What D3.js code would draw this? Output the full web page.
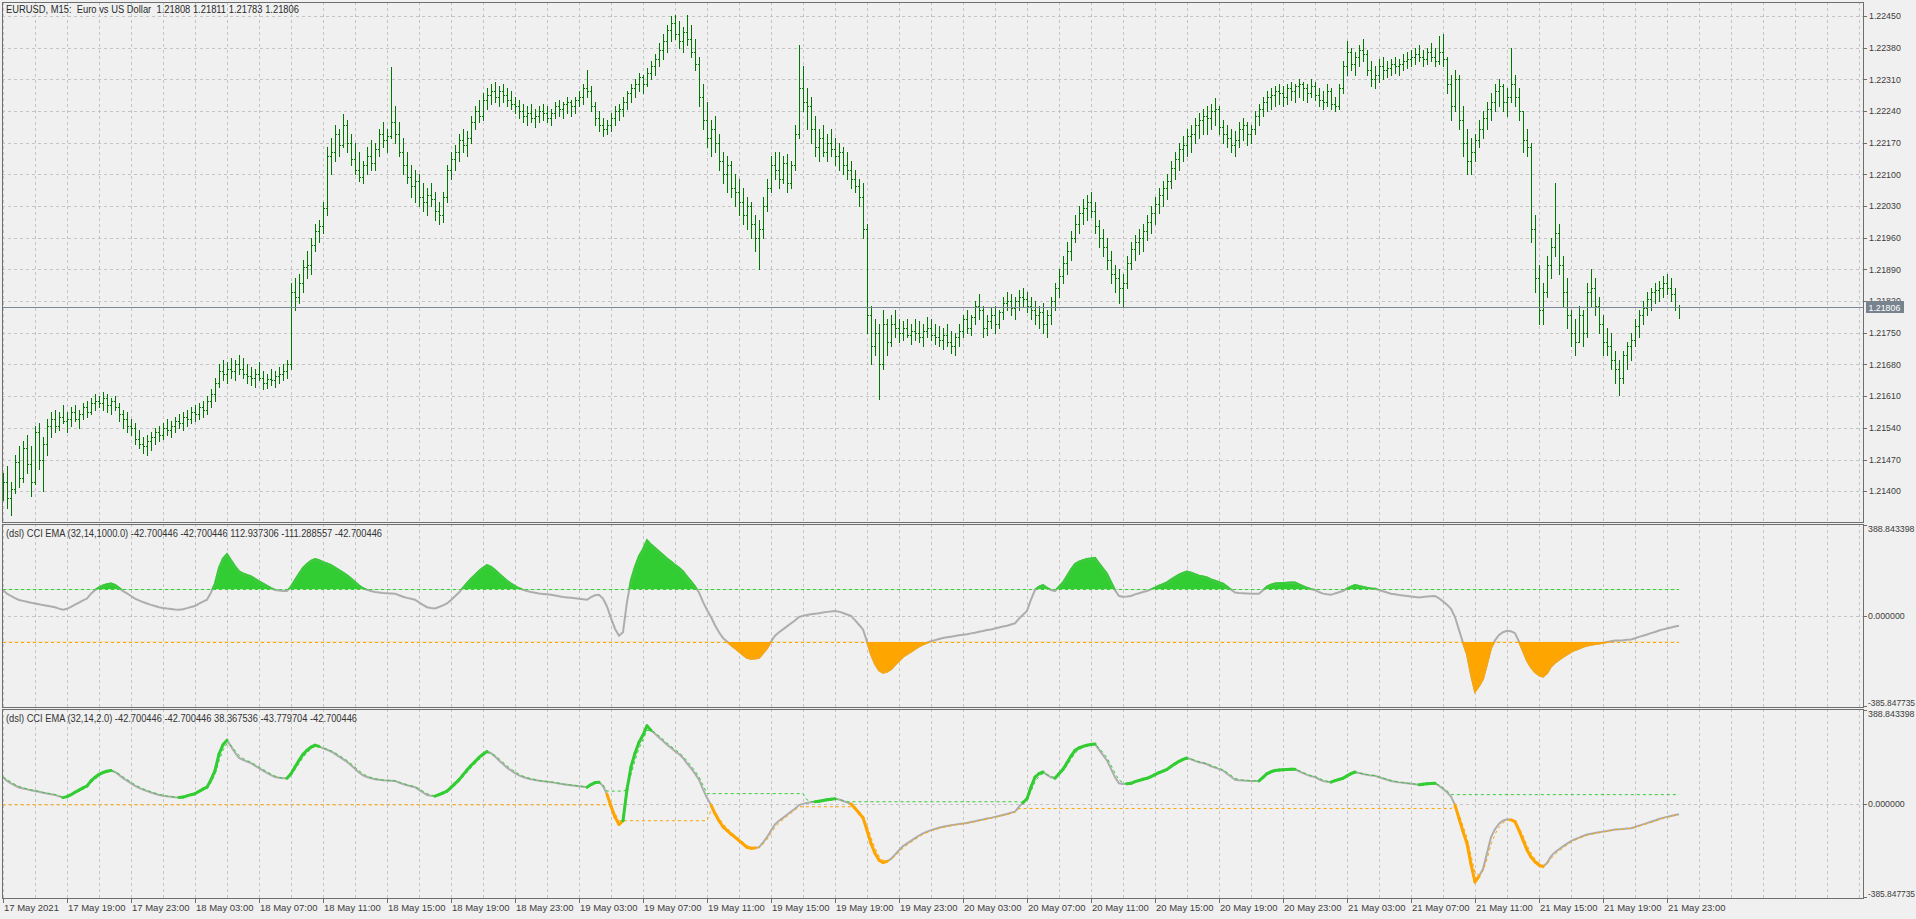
<!DOCTYPE html>
<html><head><meta charset="utf-8">
<script src="https://cdn.jsdelivr.net/npm/d3@7"></script>
<style>
html,body{margin:0;padding:0;background:#f0f0f0;overflow:hidden;}
svg{display:block;}
text{font-family:"Liberation Sans",Arial,"DejaVu Sans",sans-serif;}
.pre{white-space:pre;}
</style></head><body>
<svg id="c" width="1916" height="919"></svg>
<script>
// ---------- texts ----------
const symbolTitle = "EURUSD, M15:  Euro vs US Dollar  1.21808 1.21811 1.21783 1.21806";
const slowTitle = "(dsl) CCI EMA (32,14,1000.0) -42.700446 -42.700446 112.937306 -111.288557 -42.700446";
const fastTitle = "(dsl) CCI EMA (32,14,2.0) -42.700446 -42.700446 38.367536 -43.779704 -42.700446";
const timeLabels = ["17 May 2021","17 May 19:00","17 May 23:00","18 May 03:00","18 May 07:00","18 May 11:00","18 May 15:00","18 May 19:00","18 May 23:00","19 May 03:00","19 May 07:00","19 May 11:00","19 May 15:00","19 May 19:00","19 May 23:00","20 May 03:00","20 May 07:00","20 May 11:00","20 May 15:00","20 May 19:00","20 May 23:00","21 May 03:00","21 May 07:00","21 May 11:00","21 May 15:00","21 May 19:00","21 May 23:00"];
const timeLabelBars = [0,16,32,48,64,80,96,112,128,144,160,176,192,208,224,240,256,272,288,304,320,336,352,368,384,400,416];
const priceTicks = [1.22450,1.22380,1.22310,1.22240,1.22170,1.22100,1.22030,1.21960,1.21890,1.21820,1.21750,1.21680,1.21610,1.21540,1.21470,1.21400];
const lastPrice = 1.21806;
// prices stored in points: price = priceBase + value * pointSize
const priceBase = 1.2, pointSize = 0.00001;
const opens = [1400,1420,1385,1405,1465,1430,1495,1460,1420,1530,1470,1505,1545,1560,
1545,1565,1555,1560,1575,1560,1570,1585,1575,1595,1600,1595,1605,
1590,1600,1585,1570,1560,1545,1540,1515,
1505,1500,1510,1520,1530,
1525,1540,1535,1545,1555,1550,1565,1560,1575,1570,1585,1580,1600,1615,
1640,1665,1660,1670,
1665,1680,1670,1660,1655,1650,1660,1650,1640,1648,1645,1655,1660,1665,1680,
1840,1830,1860,1895,1900,1945,1975,1985,2025,
2140,2150,2190,2165,2210,2170,2135,2110,2095,2120,2140,2125,2155,2190,2175,2185,2215,2190,
2150,2120,2095,2075,2085,2050,2040,2055,2045,2020,2010,2050,
2110,2135,2150,2175,2165,2180,2215,2240,2230,2265,2275,2285,
2270,2285,2275,2265,2255,2250,
2240,2230,2235,2225,2230,2240,2235,2225,2235,2250,2245,2255,2260,2250,2265,2270,2290,2285,2250,
2225,2210,2200,2210,2225,2240,
2245,2260,2280,2290,2300,2315,2300,2325,2340,2355,2375,2395,
2420,2435,2410,2395,2415,2400,2370,2345,2270,2220,
2180,2200,2170,2130,2100,2120,2070,2060,2040,2010,2030,1990,1960,1980,2030,2070,2120,2110,
2090,2125,2080,2120,2190,2290,
2260,2250,2200,2160,2180,2150,2170,2155,2140,2150,2120,2110,2090,2075,
2050,1980,1790,1720,1750,1680,1770,1730,
1770,1760,1750,1760,1745,1755,1750,1740,1755,1760,1745,1740,1735,1745,1730,1720,1740,1755,1780,1760,1785,1810,1800,
1760,1775,1790,1770,1795,1815,1820,1805,1820,1830,1825,1810,1800,1790,1795,1770,1790,1820,
1850,1875,1905,1930,1960,1990,2015,2025,2040,2020,
1985,1960,1940,1910,1880,1870,1850,1860,
1905,1935,1950,1960,1975,1995,2015,2035,2055,2070,2085,2115,
2135,2155,2165,2185,2190,2210,2220,2230,2225,2240,2245,2205,2190,
2180,2165,2175,2200,2210,2190,2200,2230,2245,2260,2270,
2275,2285,2280,2270,2290,2285,2295,2300,2290,2280,2295,2275,2265,2260,
2285,2255,2250,2290,2340,
2370,2345,2360,2375,2365,2330,2310,2320,2340,2330,2335,2345,2340,2345,2350,2355,2360,2365,2360,2355,2370,2360,2350,2370,2355,
2300,2250,2310,2220,2170,2130,
2150,2175,2200,2225,2245,2260,2285,2295,2260,2270,2300,
2270,2240,2175,2160,1980,1870,1800,
1840,1900,1940,1970,1900,1840,1790,1750,1730,1790,1750,1840,1850,
1810,1770,1730,1720,1690,1670,1650,
1700,1720,1735,1765,1790,1805,1825,1840,1845,1850,1860,1850,1835,1808];
const highs = [1440,1455,1420,1480,1500,1510,1525,1500,1545,1550,1520,1560,1575,
1580,1575,1590,1575,1585,1590,1580,1595,1600,1605,1615,1610,1620,
1615,1605,1610,1595,1580,1575,1560,1550,
1535,1520,1525,1530,1540,
1545,1550,1560,1555,1565,1570,1575,1580,1585,1590,1595,1600,1610,1625,
1650,1680,1690,1685,
1695,1690,1700,1695,1680,1675,1670,1685,1665,1660,1670,1665,1675,1680,1690,
1860,1870,1880,1910,1930,1960,1990,2000,2040,
2160,2180,2210,2200,2234,2220,2190,2170,2150,2130,2160,2175,2170,2200,2215,2200,2337,2250,
2215,2180,2150,2120,2110,2100,2080,2070,2080,2060,2040,2060,
2120,2150,2165,2190,2200,2195,2230,2250,2265,2280,2290,2300,
2305,2295,2300,2290,2285,2270,
2265,2255,2250,2255,2245,2250,2255,2250,2245,2260,2265,2260,2270,2265,2270,2285,2300,2330,2295,
2260,2240,2225,2220,2235,2250,
2255,2270,2285,2300,2310,2325,2320,2335,2350,2365,2390,2410,
2430,2450,2453,2440,2425,2453,2430,2400,2360,2300,
2260,2220,2230,2190,2150,2140,2130,2100,2090,2070,2050,2040,2010,2000,2050,2090,2140,2150,
2150,2140,2145,2130,2210,2385,
2340,2290,2270,2230,2200,2210,2190,2200,2180,2170,2160,2150,2130,2110,
2090,2080,1990,1810,1780,1770,1800,1780,
1790,1800,1780,1775,1780,1770,1780,1775,1770,1785,1780,1770,1765,1760,1770,1755,1750,1770,1790,1800,1790,1820,1835,
1810,1790,1805,1810,1800,1830,1840,1835,1830,1845,1850,1840,1830,1820,1810,1815,1800,1830,
1860,1890,1920,1950,1975,2010,2030,2045,2055,2060,
2040,2000,1980,1960,1930,1900,1890,1880,
1920,1950,1965,1980,1990,2010,2030,2050,2070,2085,2100,2130,
2150,2170,2185,2200,2210,2225,2235,2245,2250,2255,2269,2250,2220,
2210,2200,2195,2215,2225,2215,2210,2240,2255,2270,2285,
2290,2295,2300,2295,2300,2305,2300,2310,2305,2300,2310,2305,2290,2285,
2300,2290,2270,2300,2350,
2395,2380,2370,2385,2400,2375,2350,2340,2355,2360,2350,2355,2360,2355,2365,2370,2375,2380,2385,2375,2380,2390,2380,2405,2410,
2360,2320,2330,2320,2250,2200,
2180,2190,2220,2240,2260,2280,2300,2310,2300,2290,2380,
2320,2290,2240,2200,2170,2010,1900,
1860,1920,1960,2080,1990,1920,1870,1800,1780,1810,1800,1860,1890,
1870,1830,1790,1760,1750,1710,1690,
1710,1730,1750,1780,1800,1820,1840,1850,1860,1865,1875,1880,1870,1850,1811];
const lows = [1380,1362,1348,1395,1410,1420,1440,1390,1415,1450,1400,1480,1520,
1530,1535,1550,1530,1545,1555,1540,1560,1565,1570,1580,1585,1580,
1575,1570,1580,1555,1540,1530,1525,1505,
1495,1485,1480,1490,1505,
1510,1515,1525,1520,1530,1540,1535,1545,1550,1555,1560,1565,1570,1585,
1600,1630,1645,1640,
1650,1645,1660,1650,1640,1635,1630,1645,1625,1628,1635,1630,1640,1645,1650,
1670,1800,1815,1840,1870,1880,1930,1950,1970,
2010,2100,2130,2140,2160,2150,2120,2100,2085,2080,2100,2110,2110,2140,2160,2150,2180,2170,
2140,2100,2080,2050,2040,2030,2020,2010,2030,2000,1990,1995,
2040,2090,2110,2130,2150,2140,2170,2200,2215,2220,2245,2255,
2260,2250,2260,2250,2245,2235,
2225,2215,2210,2215,2205,2215,2220,2215,2210,2225,2230,2225,2235,2230,2235,2250,2255,2270,2240,
2210,2195,2185,2190,2195,2210,
2220,2230,2245,2260,2270,2285,2280,2295,2310,2320,2340,2355,
2370,2395,2400,2380,2370,2385,2360,2330,2250,2200,
2160,2140,2150,2110,2080,2060,2050,2030,2010,1990,1980,1960,1930,1891,1960,2020,2060,2090,
2070,2080,2060,2070,2110,2180,
2240,2200,2170,2140,2130,2140,2130,2140,2120,2110,2100,2090,2070,2060,
2030,1960,1750,1680,1700,1603,1670,1700,
1720,1740,1730,1735,1740,1725,1735,1730,1720,1740,1735,1725,1720,1715,1720,1705,1700,1720,1740,1750,1745,1770,1780,
1740,1745,1760,1750,1760,1780,1800,1790,1780,1800,1810,1795,1780,1770,1760,1750,1740,1770,
1800,1830,1860,1880,1910,1950,1970,1990,2000,2005,
1970,1940,1920,1890,1860,1840,1815,1810,
1850,1890,1910,1925,1930,1955,1970,1990,2015,2030,2045,2070,
2090,2110,2130,2140,2150,2170,2180,2190,2190,2200,2210,2190,2170,
2160,2150,2140,2160,2175,2165,2170,2190,2210,2230,2240,
2245,2250,2255,2250,2255,2265,2260,2270,2265,2260,2270,2265,2250,2245,
2250,2245,2240,2245,2280,
2320,2330,2320,2340,2350,2320,2295,2290,2305,2310,2315,2320,2325,2320,2330,2335,2340,2345,2350,2340,2345,2350,2340,2345,2340,
2280,2220,2240,2200,2140,2100,
2100,2130,2160,2180,2200,2220,2240,2250,2240,2230,2260,
2250,2220,2150,2140,1950,1840,1770,
1770,1830,1870,1920,1880,1810,1760,1720,1700,1730,1720,1740,1810,
1790,1750,1700,1700,1670,1640,1612,
1640,1670,1690,1720,1740,1770,1790,1800,1815,1820,1830,1835,1820,1800,1783];
const closes = [1420,1385,1405,1465,1430,1495,1460,1420,1530,1470,1505,1545,1560,
1545,1565,1555,1560,1575,1560,1570,1585,1575,1595,1600,1595,1605,
1590,1600,1585,1570,1560,1545,1540,1515,
1505,1500,1510,1520,1530,
1525,1540,1535,1545,1555,1550,1565,1560,1575,1570,1585,1580,1600,1615,
1640,1665,1660,1670,
1665,1680,1670,1660,1655,1650,1660,1650,1640,1648,1645,1655,1660,1665,1680,
1840,1830,1860,1895,1900,1945,1975,1985,2025,
2140,2150,2190,2165,2210,2170,2135,2110,2095,2120,2140,2125,2155,2190,2175,2185,2215,2190,
2150,2120,2095,2075,2085,2050,2040,2055,2045,2020,2010,2050,
2110,2135,2150,2175,2165,2180,2215,2240,2230,2265,2275,2285,
2270,2285,2275,2265,2255,2250,
2240,2230,2235,2225,2230,2240,2235,2225,2235,2250,2245,2255,2260,2250,2265,2270,2290,2285,2250,
2225,2210,2200,2210,2225,2240,
2245,2260,2280,2290,2300,2315,2300,2325,2340,2355,2375,2395,
2420,2435,2410,2395,2415,2400,2370,2345,2270,2220,
2180,2200,2170,2130,2100,2120,2070,2060,2040,2010,2030,1990,1960,1980,2030,2070,2120,2110,
2090,2125,2080,2120,2190,2290,
2260,2250,2200,2160,2180,2150,2170,2155,2140,2150,2120,2110,2090,2075,
2050,1980,1790,1720,1750,1680,1770,1730,
1770,1760,1750,1760,1745,1755,1750,1740,1755,1760,1745,1740,1735,1745,1730,1720,1740,1755,1780,1760,1785,1810,1800,
1760,1775,1790,1770,1795,1815,1820,1805,1820,1830,1825,1810,1800,1790,1795,1770,1790,1820,
1850,1875,1905,1930,1960,1990,2015,2025,2040,2020,
1985,1960,1940,1910,1880,1870,1850,1860,
1905,1935,1950,1960,1975,1995,2015,2035,2055,2070,2085,2115,
2135,2155,2165,2185,2190,2210,2220,2230,2225,2240,2245,2205,2190,
2180,2165,2175,2200,2210,2190,2200,2230,2245,2260,2270,
2275,2285,2280,2270,2290,2285,2295,2300,2290,2280,2295,2275,2265,2260,
2285,2255,2250,2290,2340,
2370,2345,2360,2375,2365,2330,2310,2320,2340,2330,2335,2345,2340,2345,2350,2355,2360,2365,2360,2355,2370,2360,2350,2370,2355,
2300,2250,2310,2220,2170,2130,
2150,2175,2200,2225,2245,2260,2285,2295,2260,2270,2300,
2270,2240,2175,2160,1980,1870,1800,
1840,1900,1940,1970,1900,1840,1790,1750,1730,1790,1750,1840,1850,
1810,1770,1730,1720,1690,1670,1650,
1700,1720,1735,1765,1790,1805,1825,1840,1845,1850,1860,1850,1835,1808,1806];
// CCI EMA values (shared by both indicator panes)
const cciValues = [111,95,85,76,68,64,60,56,53,50,
46,43,40,37,31,26,30,38,48,57,
66,74,95,110,122,130,135,138,132,120,
106,96,85,74,66,59,53,47,42,37,
34,31,29,27,26,28,33,38,42,52,
61,69,100,138,206,245,264,238,212,190,
182,175,169,158,148,138,128,119,111,108,
106,106,125,153,180,205,222,235,243,238,
230,224,217,207,196,185,174,160,145,130,
118,111,106,102,100,98,97,96,95,88,
82,77,73,69,58,47,37,34,32,38,
45,53,68,84,100,120,140,159,175,192,
206,217,210,196,180,165,150,138,127,118,
111,106,102,99,96,94,92,90,87,84,
81,79,77,75,73,71,69,80,88,90,
74,40,-10,-55,-85,-70,60,153,210,255,
285,323,305,290,275,260,245,232,218,206,
190,168,148,125,100,60,25,-5,-40,-70,
-95,-110,-125,-138,-152,-166,-180,-184,-183,-180,
-160,-138,-110,-85,-70,-58,-45,-32,-20,-5,
0,4,7,9,11,14,17,19,21,18,
12,6,0,-18,-38,-58,-110,-164,-205,-233,
-243,-238,-228,-210,-192,-175,-164,-153,-142,-131,
-122,-115,-109,-104,-99,-95,-92,-89,-86,-83,
-81,-79,-75,-72,-68,-65,-61,-58,-54,-50,
-46,-42,-37,-32,-12,5,21,70,111,125,
132,120,110,106,125,143,170,198,222,232,
238,243,246,248,225,202,180,145,110,85,
82,83,85,92,97,102,106,113,121,129,
136,143,155,166,176,184,190,185,178,172,
169,164,156,150,144,138,125,112,100,98,
97,96,95,95,95,110,125,133,138,140,
141,142,143,143,135,127,120,114,111,102,
95,92,90,96,101,106,116,125,132,128,
124,120,117,116,110,105,100,95,92,89,
87,85,83,81,79,81,83,84,85,75,
62,48,30,-5,-60,-115,-164,-250,-323,-300,
-270,-205,-138,-105,-82,-70,-64,-66,-74,-110,
-150,-191,-220,-240,-254,-260,-245,-217,-200,-188,
-176,-165,-154,-146,-140,-133,-127,-124,-121,-118,
-115,-112,-109,-106,-105,-104,-102,-101,-96,-90,
-85,-80,-74,-69,-63,-58,-54,-50,-46,-42.700446];
const cciScaleMax = 388.843398, cciScaleMin = -385.847735;
const cciAxisTicks = [388.843398, 0, -385.847735];
const cciAxisLabels = ["388.843398", "0.000000", "-385.847735"];
const slowUpperLevel = 112.937306, slowLowerLevel = -111.288557;
const fastSignalPeriod = 2.0;
const fastUpperStart = 111, fastLowerStart = -4;

// ---------- styles ----------
const BG = "#f0f0f0", BORDER = "#6e6e6e", GRID = "#c4c4c4", AXIS_TXT = "#3c3c3c";
const BAR = "#007800", GREEN = "#32cd32", ORANGE = "#ffa500", GRAY = "#adadad";

const svg = d3.select("#c");
svg.append("rect").attr("width",1916).attr("height",919).attr("fill",BG);
const L = 2, R = 1863;
const panes = {top:[2,522], mid:[524,707], bot:[709,898]};
const n = closes.length;
const x = d3.scaleLinear().domain([0, n-1]).range([3, 3 + 4*(n-1)]);
const toPrice = v => priceBase + v*pointSize;
const yP = d3.scaleLinear().domain([1.213319, 1.224809]).range([522, 2]);
const yM = d3.scaleLinear().domain([cciScaleMin, cciScaleMax]).range([706, 525]);
const yB = d3.scaleLinear().domain([cciScaleMin, cciScaleMax]).range([897, 710]);

const defs = svg.append("defs");
function clip(id, x0, y0, x1, y1){
  defs.append("clipPath").attr("id", id).append("rect").attr("x",x0).attr("y",y0).attr("width",x1-x0).attr("height",y1-y0);
  return "url(#"+id+")";
}
const gridBars = d3.range(0, 466, 8);
function vGrid(g, y0, y1){
  g.selectAll("line.vg").data(gridBars).join("line").attr("class","vg")
    .attr("x1",d=>Math.round(x(d))+0.5).attr("x2",d=>Math.round(x(d))+0.5)
    .attr("y1",y0).attr("y2",y1)
    .attr("stroke",GRID).attr("stroke-dasharray","3,3").attr("shape-rendering","crispEdges");
}
function hGridLine(g, y){
  g.append("line").attr("x1",L).attr("x2",R).attr("y1",Math.round(y)+0.5).attr("y2",Math.round(y)+0.5)
    .attr("stroke",GRID).attr("stroke-dasharray","3,3").attr("shape-rendering","crispEdges");
}

// ---------- TOP PANE ----------
const gTop = svg.append("g").attr("clip-path", clip("cTop", L, panes.top[0], R, panes.top[1]));
vGrid(gTop, panes.top[0], panes.top[1]);
priceTicks.forEach(p => hGridLine(gTop, yP(p)));

const bars = d3.range(n).map(i => ({i, o:toPrice(opens[i]), h:toPrice(highs[i]), l:toPrice(lows[i]), c:toPrice(closes[i])}));
const gBars = gTop.append("g").attr("fill", BAR).attr("shape-rendering","crispEdges");
gBars.selectAll("rect.v").data(bars).join("rect").attr("class","v")
  .attr("x", d=>x(d.i)).attr("y", d=>Math.round(yP(d.h)))
  .attr("width",1).attr("height", d=>Math.max(1, Math.round(yP(d.l)) - Math.round(yP(d.h)) + 1));
gBars.selectAll("rect.o").data(bars).join("rect").attr("class","o")
  .attr("x", d=>x(d.i)-1).attr("y", d=>Math.round(yP(d.o))).attr("width",1).attr("height",1);
gBars.selectAll("rect.c").data(bars).join("rect").attr("class","c")
  .attr("x", d=>x(d.i)+1).attr("y", d=>Math.round(yP(d.c))).attr("width",1).attr("height",1);

// current price line
const yLast = Math.round(yP(lastPrice)) + 0.5;
gTop.append("line").attr("x1",L).attr("x2",R).attr("y1",yLast).attr("y2",yLast)
  .attr("stroke","#7a8796").attr("shape-rendering","crispEdges");

svg.append("text").attr("class","pre").attr("x",6).attr("y",13).attr("font-size",10).attr("fill","#2a2a2a")
  .attr("textLength",293).attr("lengthAdjust","spacingAndGlyphs").text(symbolTitle);

// price axis
const gPA = svg.append("g");
gPA.selectAll("line").data(priceTicks).join("line")
  .attr("x1",R).attr("x2",R+4).attr("y1",d=>Math.round(yP(d))+0.5).attr("y2",d=>Math.round(yP(d))+0.5)
  .attr("stroke",BORDER).attr("shape-rendering","crispEdges");
gPA.selectAll("text").data(priceTicks).join("text")
  .attr("x",R+6).attr("y",d=>yP(d)+3.2).attr("font-size",8.8).attr("fill",AXIS_TXT)
  .text(d=>d.toFixed(5));
svg.append("rect").attr("x",1866).attr("y",yLast-6.5).attr("width",38).attr("height",12).attr("fill","#77838f");
svg.append("text").attr("x",1868.5).attr("y",yLast+3.2).attr("font-size",8.8).attr("fill","#ffffff").text(lastPrice.toFixed(5));

// ---------- MIDDLE PANE (slow levels) ----------
const gMid = svg.append("g").attr("clip-path", clip("cMid", L, panes.mid[0], R, panes.mid[1]));
vGrid(gMid, panes.mid[0], panes.mid[1]);
hGridLine(gMid, yM(0));
const cciPts = cciValues.map((v,i)=>({i,v}));
const xFirst = x(0), xLastBar = x(n-1);
gMid.append("line").attr("x1",xFirst).attr("x2",xLastBar).attr("y1",Math.round(yM(slowUpperLevel))+0.5).attr("y2",Math.round(yM(slowUpperLevel))+0.5)
  .attr("stroke",GREEN).attr("stroke-dasharray","3,3").attr("shape-rendering","crispEdges");
gMid.append("line").attr("x1",xFirst).attr("x2",xLastBar).attr("y1",Math.round(yM(slowLowerLevel))+0.5).attr("y2",Math.round(yM(slowLowerLevel))+0.5)
  .attr("stroke",ORANGE).attr("stroke-dasharray","3,3").attr("shape-rendering","crispEdges");
const clipUp = clip("cMidUp", L, panes.mid[0], R, yM(slowUpperLevel));
const clipDn = clip("cMidDn", L, yM(slowLowerLevel), R, panes.mid[1]);
const areaUp = d3.area().x(d=>x(d.i)).y0(yM(slowUpperLevel)).y1(d=>yM(d.v));
const areaDn = d3.area().x(d=>x(d.i)).y0(yM(slowLowerLevel)).y1(d=>yM(d.v));
const lineM = d3.line().x(d=>x(d.i)).y(d=>yM(d.v));
gMid.append("path").attr("d",areaUp(cciPts)).attr("fill",GREEN).attr("clip-path",clipUp);
gMid.append("path").attr("d",areaDn(cciPts)).attr("fill",ORANGE).attr("clip-path",clipDn);
gMid.append("path").attr("d",lineM(cciPts)).attr("fill","none").attr("stroke",GRAY).attr("stroke-width",2);
gMid.append("path").attr("d",lineM(cciPts)).attr("fill","none").attr("stroke",GREEN).attr("stroke-width",2).attr("clip-path",clipUp);
gMid.append("path").attr("d",lineM(cciPts)).attr("fill","none").attr("stroke",ORANGE).attr("stroke-width",2).attr("clip-path",clipDn);
svg.append("text").attr("class","pre").attr("x",6).attr("y",537).attr("font-size",10).attr("fill","#333")
  .attr("textLength",376).attr("lengthAdjust","spacingAndGlyphs").text(slowTitle);

// ---------- BOTTOM PANE (fast dsl levels) ----------
const alpha = 2/(1+fastSignalPeriod);
let up = fastUpperStart, dn = fastLowerStart;
const fastPts = cciValues.map((v,i)=>{
  if (v > 0) up = up + alpha*(v - up);
  if (v < 0) dn = dn + alpha*(v - dn);
  return {i, v, up, dn, s: v > up ? 1 : (v < dn ? -1 : 0)};
});
const gBot = svg.append("g").attr("clip-path", clip("cBot", L, panes.bot[0], R, panes.bot[1]));
vGrid(gBot, panes.bot[0], panes.bot[1]);
hGridLine(gBot, yB(0));
const lineB = d3.line().x(d=>x(d.i)).y(d=>yB(d.v));
gBot.append("path").attr("d",lineB(fastPts)).attr("fill","none").attr("stroke",GRAY).attr("stroke-width",2);
gBot.append("path").attr("d",d3.line().x(d=>x(d.i)).y(d=>yB(d.up))(fastPts)).attr("fill","none")
  .attr("stroke",GREEN).attr("stroke-dasharray","3,3");
gBot.append("path").attr("d",d3.line().x(d=>x(d.i)).y(d=>yB(d.dn))(fastPts)).attr("fill","none")
  .attr("stroke",ORANGE).attr("stroke-dasharray","3,3");
const segs = fastPts.slice(1).filter(d=>d.s !== 0).map(d=>({a:fastPts[d.i-1], b:d}));
gBot.selectAll("line.seg").data(segs).join("line").attr("class","seg")
  .attr("x1",d=>x(d.a.i)).attr("y1",d=>yB(d.a.v)).attr("x2",d=>x(d.b.i)).attr("y2",d=>yB(d.b.v))
  .attr("stroke",d=>d.b.s>0?GREEN:ORANGE).attr("stroke-width",3).attr("stroke-linecap","round");
svg.append("text").attr("class","pre").attr("x",6).attr("y",722).attr("font-size",10).attr("fill","#333")
  .attr("textLength",351).attr("lengthAdjust","spacingAndGlyphs").text(fastTitle);

// cci axes
[yM, yB].forEach(ys=>{
  const g = svg.append("g");
  g.selectAll("line").data(cciAxisTicks).join("line")
    .attr("x1",R).attr("x2",R+4).attr("y1",d=>Math.round(ys(d))+0.5).attr("y2",d=>Math.round(ys(d))+0.5)
    .attr("stroke",BORDER).attr("shape-rendering","crispEdges");
  g.selectAll("text").data(cciAxisTicks).join("text")
    .attr("x",R+5).attr("y",(d,k)=> k===0 ? ys(d)+7 : (k===2 ? ys(d)-0.5 : ys(d)+3.2))
    .attr("font-size",8.8).attr("fill",AXIS_TXT)
    .attr("textLength",(d,k)=> k===2 ? 47 : null).attr("lengthAdjust","spacingAndGlyphs")
    .text((d,k)=>cciAxisLabels[k]);
});

// ---------- pane borders ----------
Object.values(panes).forEach(([y0,y1])=>{
  svg.append("rect").attr("x",L+0.5).attr("y",y0+0.5).attr("width",R-L).attr("height",y1-y0)
    .attr("fill","none").attr("stroke",BORDER).attr("shape-rendering","crispEdges");
});

// ---------- time axis ----------
const gT = svg.append("g");
gT.selectAll("line").data(timeLabelBars).join("line")
  .attr("x1",d=>x(d)+0.5).attr("x2",d=>x(d)+0.5).attr("y1",panes.bot[1]).attr("y2",panes.bot[1]+5)
  .attr("stroke",BORDER).attr("shape-rendering","crispEdges");
gT.selectAll("text").data(timeLabelBars).join("text")
  .attr("x",d=>x(d)+1).attr("y",911).attr("font-size",9.5).attr("fill",AXIS_TXT)
  .text((d,k)=>timeLabels[k]);
</script>
</body></html>
